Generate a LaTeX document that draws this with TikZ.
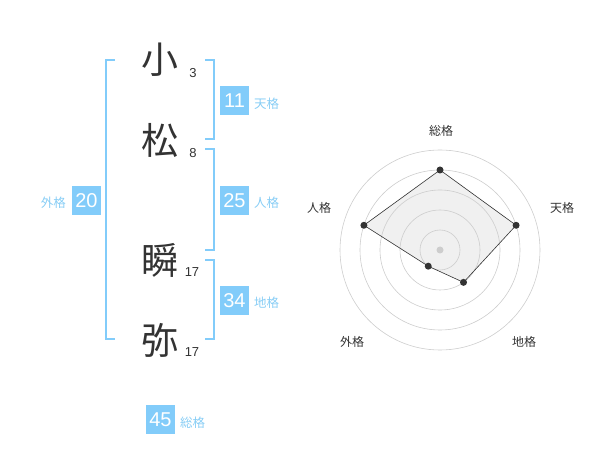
\documentclass[tikz,border=0pt]{standalone}
\usepackage{fontspec}
\setmainfont{Liberation Sans}
\newfontfamily\jp{Noto Sans CJK JP}
\definecolor{boxblue}{RGB}{130,204,250}
\definecolor{lblblue}{RGB}{135,205,245}
\definecolor{ink}{RGB}{51,51,51}
\definecolor{gridc}{RGB}{205,205,205}
\definecolor{areafill}{RGB}{240,240,240}
\begin{document}
\begin{tikzpicture}[x=1pt,y=-1pt,
  bracket/.style={draw=boxblue,line width=1.6pt},
  numbox/.style={fill=boxblue,text=white,minimum width=29pt,minimum height=29pt,inner sep=0pt,font=\fontsize{20}{20}\selectfont},
  lbl/.style={text=lblblue,font=\jp\fontsize{12.5}{12.5}\selectfont,anchor=west,inner sep=0pt},
  kanji/.style={text=ink,font=\jp\fontsize{37}{37}\selectfont,inner sep=0pt},
  stroke/.style={text=ink,font=\fontsize{13}{13}\selectfont,inner sep=0pt},
  axlbl/.style={text=ink,font=\jp\fontsize{12}{12}\selectfont,inner sep=0pt},
  ring/.style={draw=gridc,line width=0.6pt},
  dot/.style={circle,fill=ink,inner sep=0pt,minimum size=7pt}]
\useasboundingbox (0,0) rectangle (600,470);
% characters
\node[kanji] (c1) at (160,60) {小};
\node[kanji] (c2) at (160,140) {松};
\node[kanji] (c3) at (160,260) {瞬};
\node[kanji] (c4) at (160,340) {弥};
\node[stroke] (s1) at (193,73) {3};
\node[stroke] (s2) at (193,153) {8};
\node[stroke] (s3) at (192,272) {17};
\node[stroke] (s4) at (192,352) {17};
% brackets
\draw[bracket] (115,60) -- (106,60) -- (106,339) -- (115,339);
\draw[bracket] (205,60) -- (214,60) -- (214,139) -- (205,139);
\draw[bracket] (205,149) -- (214,149) -- (214,250) -- (205,250);
\draw[bracket] (205,260) -- (214,260) -- (214,339) -- (205,339);
% boxes
\node[numbox] (b11) at (234.5,100.5) {11};
\node[lbl] (l11) at (254,104) {天格};
\node[numbox] (b25) at (234.5,200.5) {25};
\node[lbl] (l25) at (254,203) {人格};
\node[numbox] (b34) at (234.5,300.5) {34};
\node[lbl] (l34) at (254,303) {地格};
\node[numbox] (b20) at (86.5,200.5) {20};
\node[lbl,anchor=east] (l20) at (66,203) {外格};
\node[numbox] (b45) at (160.5,419.5) {45};
\node[lbl] (l45) at (180,423) {総格};
% radar
\begin{scope}[shift={(440,250)},y=1pt]
  \coordinate (pt) at (90:80);
  \coordinate (pr) at (18:80);
  \coordinate (pd) at (-54:40);
  \coordinate (pg) at (-126:20);
  \coordinate (pj) at (162:80);
  \fill[areafill] (pt) -- (pr) -- (pd) -- (pg) -- (pj) -- cycle;
  \foreach \r in {20,40,60,80,100} \draw[ring] (0,0) circle (\r);
  \fill[gridc] (0,0) circle (3.5);
  \draw[ink,line width=0.6pt] (pt) -- (pr) -- (pd) -- (pg) -- (pj) -- cycle;
  \foreach \p in {pt,pr,pd,pg,pj} \node[dot] at (\p) {};
\end{scope}
\node[axlbl] (a1) at (441,131) {総格};
\node[axlbl] (a2) at (562,208) {天格};
\node[axlbl] (a3) at (319,208) {人格};
\node[axlbl] (a4) at (352,342) {外格};
\node[axlbl] (a5) at (524,342) {地格};
\end{tikzpicture}
\end{document}
